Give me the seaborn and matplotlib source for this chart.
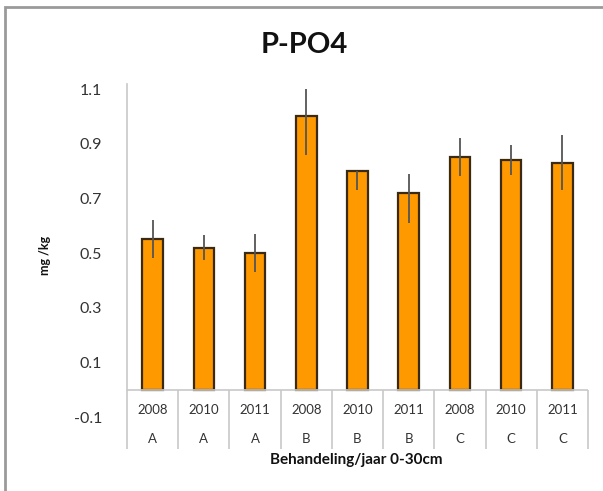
import numpy as np
import pandas as pd
import matplotlib
matplotlib.use('Agg')
import matplotlib.pyplot as plt
import seaborn as sns

# data
years = ['2008', '2010', '2011', '2008', '2010', '2011', '2008', '2010', '2011']
groups = ['A', 'A', 'A', 'B', 'B', 'B', 'C', 'C', 'C']
values = [0.55, 0.52, 0.50, 1.00, 0.80, 0.72, 0.85, 0.84, 0.83]
err_low = [0.07, 0.045, 0.07, 0.14, 0.07, 0.11, 0.07, 0.055, 0.10]
err_high = [0.07, 0.045, 0.07, 0.10, 0.0, 0.07, 0.07, 0.055, 0.10]
yticks = [-0.1, 0.1, 0.3, 0.5, 0.7, 0.9, 1.1]

df = pd.DataFrame({'cat': [g + y for g, y in zip(groups, years)], 'val': values})

sns.set_style('white')
plt.rcParams['font.family'] = ['Lato', 'DejaVu Sans']

fig = plt.figure(figsize=(6.03, 4.91), dpi=100)
ax = fig.add_axes([0.2106, 0.1507, 0.7645, 0.668])

sns.barplot(data=df, x='cat', y='val', color='#FF9900', width=0.4,
            edgecolor='#3a2a12', linewidth=1.6, errorbar=None, ax=ax, saturation=1)
x = np.arange(len(values))
ax.errorbar(x, values, yerr=[err_low, err_high], fmt='none', ecolor='#555555',
            elinewidth=1.3, capsize=0, zorder=5)

ax.set_ylim(-0.1, 1.1)
ax.set_xlim(-0.5, len(values) - 0.5)
ax.set_yticks(yticks)
ax.set_yticklabels(['%.1f' % t for t in yticks], fontsize=11.5, color='#333333')
ax.tick_params(axis='y', length=0, pad=18)
ax.set_xticks([])
ax.set_xlabel('')
ax.set_ylabel('')

for s in ['top', 'right', 'bottom']:
    ax.spines[s].set_visible(False)
ax.spines['left'].set_color('#c8c8c8')
ax.spines['left'].set_linewidth(1.2)
ax.spines['left'].set_bounds(0, 1.12)

# category axis drawn at zero with two label rows
ax.axhline(0, color='#c8c8c8', lw=1.2, zorder=1)
ax.vlines(np.arange(len(values) + 1) - 0.5, -0.217, 0, color='#c8c8c8', lw=1.2, clip_on=False)
for i, (yr, g) in enumerate(zip(years, groups)):
    ax.text(i, -0.074, yr, ha='center', va='center', fontsize=9.5, color='#333333')
    ax.text(i, -0.18, g, ha='center', va='center', fontsize=9.5, color='#333333', clip_on=False)

fig.text(0.505, 0.908, 'P-PO4', ha='center', va='center', fontsize=21, fontweight='bold', color='#111111')
fig.text(0.075, 0.48, 'mg /kg', ha='center', va='center', rotation=90, fontsize=9, fontweight='bold', color='#111111')
fig.text(0.59, 0.063, 'Behandeling/jaar 0-30cm', ha='center', va='center', fontsize=11, fontweight='bold', color='#111111')

# outer chart frame
top = 1 - 7 / 491
fig.patches.append(plt.Rectangle((5 / 603, -0.1), 1.2, top + 0.1, transform=fig.transFigure,
                                 fill=False, edgecolor='#9a9a9a', lw=2))

fig.savefig('out.png', dpi=100)
